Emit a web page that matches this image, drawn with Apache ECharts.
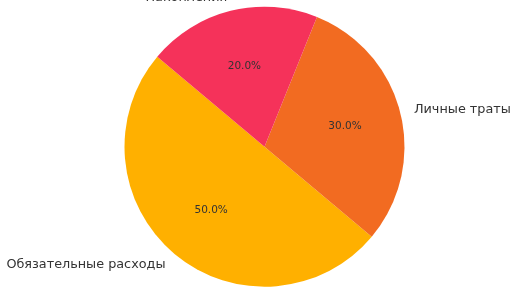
<!DOCTYPE html>
<html>
<head>
<meta charset="utf-8">
<script src="https://cdn.jsdelivr.net/npm/echarts@6/dist/echarts.min.js"></script>
<style>html,body{margin:0;padding:0;background:#fff;}#c{width:516px;height:290px;}</style>
</head>
<body>
<div id="c"></div>
<script>
const categories = ['Обязательные расходы', 'Личные траты', 'Накопления'];
const values = [50, 30, 20];
const colors = ['#FFB000', '#F26B21', '#F5325A'];

const total = values.reduce((a, b) => a + b, 0);
const data = categories.map((name, i) => ({ name: name, value: values[i], itemStyle: { color: colors[i] } }));
const font = 'DejaVu Sans';
const chart = echarts.init(document.getElementById('c'), null, { renderer: 'canvas' });
chart.setOption({
  animation: false,
  backgroundColor: '#ffffff',
  series: [
    {
      type: 'pie',
      center: [264.5, 146.7],
      radius: [0, 140],
      startAngle: 140,
      clockwise: false,
      avoidLabelOverlap: false,
      silent: true,
      data: data,
      itemStyle: { borderWidth: 0 },
      label: {
        show: true,
        position: 'outside',
        formatter: '{b}',
        color: '#333333',
        fontFamily: font,
        fontSize: 12.8,
        distanceToLabelLine: 0
      },
      labelLine: { show: false, length: 14, length2: 0 }
    },
    {
      type: 'pie',
      center: [264.5, 146.7],
      radius: [20, 140],
      startAngle: 140,
      clockwise: false,
      avoidLabelOverlap: false,
      silent: true,
      data: categories.map((name, i) => ({ name: name, value: values[i], itemStyle: { color: 'rgba(0,0,0,0)' } })),
      label: {
        show: true,
        position: 'inside',
        formatter: p => (p.value / total * 100).toFixed(1) + '%',
        color: '#333333',
        fontFamily: font,
        fontSize: 10.5
      },
      labelLine: { show: false }
    }
  ]
});
</script>
</body>
</html>
